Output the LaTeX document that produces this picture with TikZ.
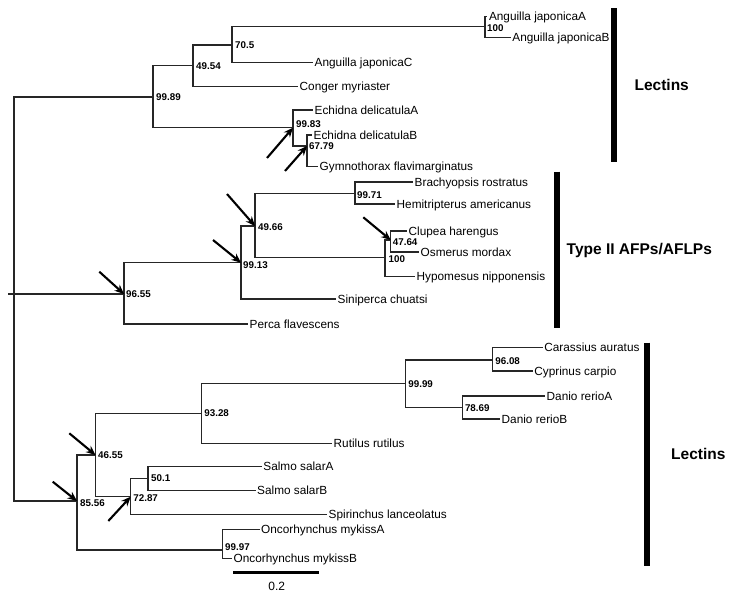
\documentclass[tikz,border=0pt]{standalone}
\usepackage{fontspec}
\setmainfont{Liberation Sans}
\usetikzlibrary{arrows.meta}
\begin{document}
\begin{tikzpicture}[x=1pt,y=-1pt,
  branch/.style={line width=1.2pt,draw=black!85},
  leaf/.style={anchor=west,inner xsep=1.5pt,inner ysep=0pt,text height=8.4pt,text depth=0pt,font=\fontsize{11.8}{14}\selectfont},
  bs/.style={anchor=west,inner xsep=1pt,inner ysep=0.5pt,font=\fontsize{9.8}{11}\selectfont\bfseries},
  arr/.style={line width=2.1pt,-{Stealth[length=9.5pt,width=8pt]}},
  cladebar/.style={line width=6pt},
  cladelbl/.style={font=\fontsize{15.5}{18}\selectfont\bfseries,inner sep=0pt}]
\useasboundingbox (0,0) rectangle (735,599);
% internal nodes
\coordinate (stub) at (8,294);
\coordinate (root) at (14,294);
\coordinate (n9989) at (153,97);
\coordinate (n4954) at (193,65.7);
\coordinate (n705) at (232,45);
\coordinate (nA100) at (485,26.7);
\coordinate (n9983) at (293,127.7);
\coordinate (n6779) at (307,146);
\coordinate (n9655) at (124,294);
\coordinate (n9913) at (241,262.7);
\coordinate (n4966) at (255,226);
\coordinate (n9971) at (355,193.5);
\coordinate (nB100) at (385,257.5);
\coordinate (n4764) at (390.7,240);
\coordinate (n8556) at (77,501);
\coordinate (n4655) at (95.5,455);
\coordinate (n9328) at (201.7,413.3);
\coordinate (n9999) at (405.7,383.3);
\coordinate (n9608) at (492.7,360);
\coordinate (n7869) at (462.3,407.3);
\coordinate (n7287) at (130.7,496.7);
\coordinate (n501) at (148,478.3);
\coordinate (n9997) at (222.5,550);
% leaves
\node[leaf] (AjA) at (487.3,16.7) {Anguilla japonicaA};
\node[leaf] (AjB) at (510.7,37.7) {Anguilla japonicaB};
\node[leaf] (AjC) at (313,62.3) {Anguilla japonicaC};
\node[leaf] (Cong) at (298,86.7) {Conger myriaster};
\node[leaf] (EdA) at (313,110) {Echidna delicatulaA};
\node[leaf] (EdB) at (312,135) {Echidna delicatulaB};
\node[leaf] (Gym) at (318,166.7) {Gymnothorax flavimarginatus};
\node[leaf] (Bra) at (413,182) {Brachyopsis rostratus};
\node[leaf] (Hem) at (395,204) {Hemitripterus americanus};
\node[leaf] (Clu) at (407,231) {Clupea harengus};
\node[leaf] (Osm) at (419,252) {Osmerus mordax};
\node[leaf] (Hyp) at (415,276.5) {Hypomesus nipponensis};
\node[leaf] (Sin) at (336,299) {Siniperca chuatsi};
\node[leaf] (Per) at (248,324) {Perca flavescens};
\node[leaf] (Car) at (542.7,347.7) {Carassius auratus};
\node[leaf] (Cyp) at (532.7,371) {Cyprinus carpio};
\node[leaf] (DaA) at (545,396) {Danio rerioA};
\node[leaf] (DaB) at (500,419) {Danio rerioB};
\node[leaf] (Rut) at (332,443.3) {Rutilus rutilus};
\node[leaf] (SaA) at (261.7,466.7) {Salmo salarA};
\node[leaf] (SaB) at (255.5,490.7) {Salmo salarB};
\node[leaf] (Spi) at (327,514.3) {Spirinchus lanceolatus};
\node[leaf] (OmA) at (259.5,529.3) {Oncorhynchus mykissA};
\node[leaf] (OmB) at (232,558.3) {Oncorhynchus mykissB};
% branches
\draw[branch] (stub) -- (root);
\draw[branch] (root) |- (n9989);
\draw[branch] (root) |- (n9655);
\draw[branch] (root) |- (n8556);
\draw[branch] (n9989) |- (n4954);
\draw[branch] (n9989) |- (n9983);
\draw[branch] (n4954) |- (n705);
\draw[branch] (n4954) |- (Cong.west);
\draw[branch] (n705) |- (nA100);
\draw[branch] (n705) |- (AjC.west);
\draw[branch] (nA100) |- (AjA.west);
\draw[branch] (nA100) |- (AjB.west);
\draw[branch] (n9983) |- (EdA.west);
\draw[branch] (n9983) |- (n6779);
\draw[branch] (n6779) |- (EdB.west);
\draw[branch] (n6779) |- (Gym.west);
\draw[branch] (n9655) |- (n9913);
\draw[branch] (n9655) |- (Per.west);
\draw[branch] (n9913) |- (n4966);
\draw[branch] (n9913) |- (Sin.west);
\draw[branch] (n4966) |- (n9971);
\draw[branch] (n4966) |- (nB100);
\draw[branch] (n9971) |- (Bra.west);
\draw[branch] (n9971) |- (Hem.west);
\draw[branch] (nB100) |- (n4764);
\draw[branch] (nB100) |- (Hyp.west);
\draw[branch] (n4764) |- (Clu.west);
\draw[branch] (n4764) |- (Osm.west);
\draw[branch] (n8556) |- (n4655);
\draw[branch] (n8556) |- (n9997);
\draw[branch] (n4655) |- (n9328);
\draw[branch] (n4655) |- (n7287);
\draw[branch] (n9328) |- (n9999);
\draw[branch] (n9328) |- (Rut.west);
\draw[branch] (n9999) |- (n9608);
\draw[branch] (n9999) |- (n7869);
\draw[branch] (n9608) |- (Car.west);
\draw[branch] (n9608) |- (Cyp.west);
\draw[branch] (n7869) |- (DaA.west);
\draw[branch] (n7869) |- (DaB.west);
\draw[branch] (n7287) |- (n501);
\draw[branch] (n7287) |- (Spi.west);
\draw[branch] (n501) |- (SaA.west);
\draw[branch] (n501) |- (SaB.west);
\draw[branch] (n9997) |- (OmA.west);
\draw[branch] (n9997) |- (OmB.west);
% bootstrap values
\node[bs] (b9989) at ([shift={(2,0)}]n9989) {99.89};
\node[bs] (b4954) at ([shift={(2,0)}]n4954) {49.54};
\node[bs] (b705) at ([shift={(2,0)}]n705) {70.5};
\node[bs] (bA100) at ([shift={(1,1)}]nA100) {100};
\node[bs] (b9983) at ([shift={(2,-3.5)}]n9983) {99.83};
\node[bs] (b6779) at ([shift={(1,0)}]n6779) {67.79};
\node[bs] (b9655) at ([shift={(1,0)}]n9655) {96.55};
\node[bs] (b9913) at ([shift={(1,2.5)}]n9913) {99.13};
\node[bs] (b4966) at ([shift={(2,1)}]n4966) {49.66};
\node[bs] (b9971) at ([shift={(1,1.5)}]n9971) {99.71};
\node[bs] (b4764) at ([shift={(1,2.5)}]n4764) {47.64};
\node[bs] (bB100) at ([shift={(2.5,2)}]nB100) {100};
\node[bs] (b8556) at ([shift={(2,2)}]n8556) {85.56};
\node[bs] (b4655) at ([shift={(1.5,0)}]n4655) {46.55};
\node[bs] (b9328) at ([shift={(1.5,0)}]n9328) {93.28};
\node[bs] (b9999) at ([shift={(1.5,0.5)}]n9999) {99.99};
\node[bs] (b9608) at ([shift={(1.5,1)}]n9608) {96.08};
\node[bs] (b7869) at ([shift={(1.5,0.5)}]n7869) {78.69};
\node[bs] (b7287) at ([shift={(1.5,1)}]n7287) {72.87};
\node[bs] (b501) at ([shift={(2,0)}]n501) {50.1};
\node[bs] (b9997) at ([shift={(1.5,-2.5)}]n9997) {99.97};
% arrows
\coordinate (t9983) at (267,158);
\coordinate (t6779) at (285,171);
\coordinate (t4966) at (227,194);
\coordinate (t9913) at (213,240);
\coordinate (t9655) at (99.3,271.7);
\coordinate (t4764) at (363.3,217.3);
\coordinate (t4655) at (69.3,433.3);
\coordinate (t8556) at (52.7,481.7);
\coordinate (t7287) at (108.3,521);
\draw[arr] (t9983) -- (n9983);
\draw[arr] (t6779) -- (n6779);
\draw[arr] (t4966) -- (n4966);
\draw[arr] (t9913) -- (n9913);
\draw[arr] (t9655) -- (n9655);
\draw[arr] (t4764) -- (n4764);
\draw[arr] (t4655) -- (n4655);
\draw[arr] (t8556) -- (n8556);
\draw[arr] (t7287) -- (n7287);
% clade bars
\coordinate (c1t) at (614.3,8.3);
\coordinate (c1b) at (614.3,161.7);
\coordinate (c2t) at (556.7,171.7);
\coordinate (c2b) at (556.7,328.3);
\coordinate (c3t) at (647.3,342.7);
\coordinate (c3b) at (647.3,565.7);
\draw[cladebar] (c1t) -- (c1b);
\draw[cladebar] (c2t) -- (c2b);
\draw[cladebar] (c3t) -- (c3b);
\node[cladelbl] (lec1) at (661.7,85) {Lectins};
\node[cladelbl] (afp) at (639.3,250) {Type II AFPs/AFLPs};
\node[cladelbl] (lec2) at (698.3,454) {Lectins};
% scale bar
\coordinate (sbL) at (233.3,572.3);
\coordinate (sbR) at (319,572.3);
\draw[line width=3pt] (sbL) -- (sbR);
\node[font=\fontsize{12}{14}\selectfont] (sbl) at (276.7,586) {0.2};
\end{tikzpicture}
\end{document}
